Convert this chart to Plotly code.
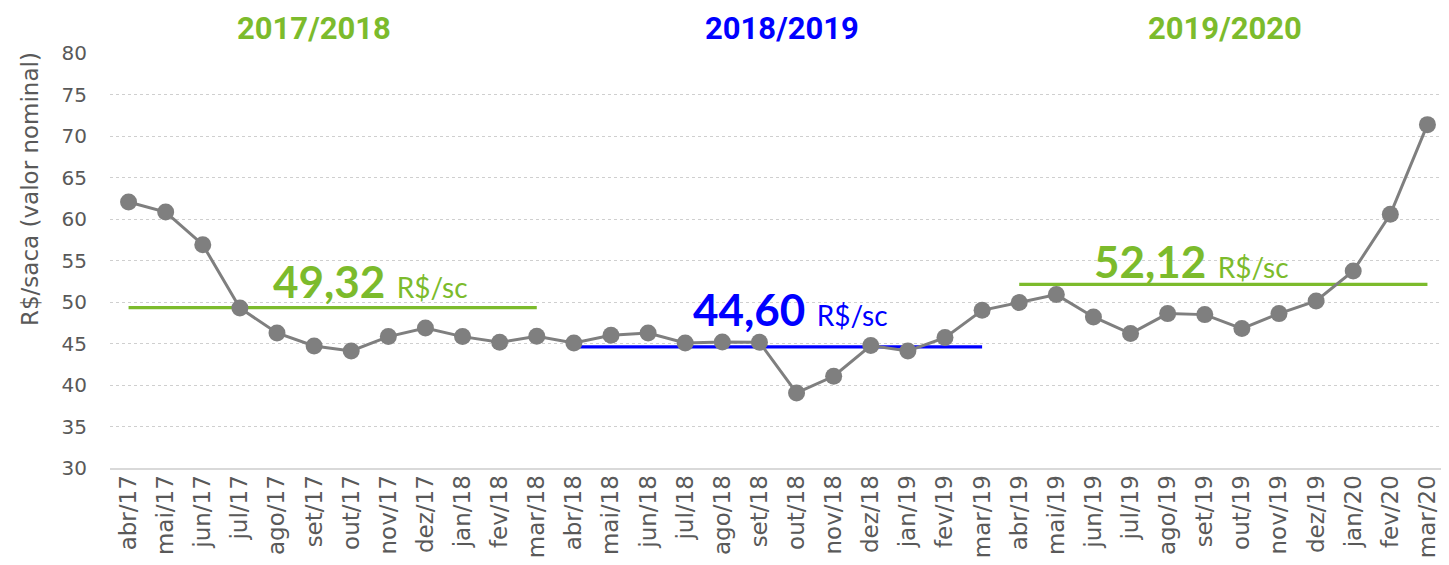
import plotly.graph_objects as go

months = ["abr/17", "mai/17", "jun/17", "jul/17", "ago/17", "set/17", "out/17", "nov/17", "dez/17",
          "jan/18", "fev/18", "mar/18", "abr/18", "mai/18", "jun/18", "jul/18", "ago/18", "set/18",
          "out/18", "nov/18", "dez/18", "jan/19", "fev/19", "mar/19", "abr/19", "mai/19", "jun/19",
          "jul/19", "ago/19", "set/19", "out/19", "nov/19", "dez/19", "jan/20", "fev/20", "mar/20"]
prices = [62.05, 60.84, 56.90, 49.28, 46.27, 44.70, 44.10, 45.83, 46.87, 45.83, 45.14, 45.87,
          45.06, 45.99, 46.27, 45.06, 45.18, 45.14, 39.04, 41.05, 44.75, 44.10, 45.71, 49.00,
          49.93, 50.89, 48.20, 46.20, 48.60, 48.48, 46.80, 48.60, 50.12, 53.73, 60.57, 71.37]

seasons = ["2017/2018", "2018/2019", "2019/2020"]
season_avgs = [49.32, 44.60, 52.12]
season_labels = ["49,32", "44,60", "52,12"]
season_start = ["abr/17", "abr/18", "abr/19"]
season_end = ["mar/18", "mar/19", "mar/20"]

GREEN = "#7cbb2c"
BLUE = "#0000ff"
season_colors = [GREEN, BLUE, GREEN]
GREY = "#7f7f7f"
TXT = "#595959"

W, H = 1441, 557          # page body has an 8px margin
L, R, T, B = 102, 3, 45, 97

fig = go.Figure()

for s, avg, c0, c1, col in zip(seasons, season_avgs, season_start, season_end, season_colors):
    fig.add_trace(go.Scatter(x=[c0, c1], y=[avg, avg], mode="lines",
                             line=dict(color=col, width=3.3), hoverinfo="skip", showlegend=False))

fig.add_trace(go.Scatter(x=months, y=prices, mode="lines+markers",
                         line=dict(color=GREY, width=3),
                         marker=dict(color=GREY, size=17),
                         showlegend=False))

# season titles and average labels
title_x = [5.0, 17.62, 29.55]
label_x = [3.85, 15.15, 25.95]
label_y = [52.5, 49.2, 55.0]
for s, lab, col, tx, lx, ly in zip(seasons, season_labels, season_colors, title_x, label_x, label_y):
    fig.add_annotation(x=tx, y=1.058, xref="x", yref="paper", text="<b>%s</b>" % s,
                       showarrow=False, xanchor="center", yanchor="middle",
                       font=dict(family="Roboto", size=31, color=col))
    fig.add_annotation(x=lx, y=ly, xref="x", yref="y",
                       text="<b>%s</b> <span style='font-size:28px;font-weight:normal'>R$/sc</span>" % lab,
                       showarrow=False, xanchor="left", yanchor="middle",
                       font=dict(family="Lato", size=44, color=col))

# y axis title (placed off-centre like the reference)
fig.add_annotation(x=-(L - 22) / (W - L - R), y=(H - B - (189 - 8)) / (H - T - B),
                   xref="paper", yref="paper", text="R$/saca (valor nominal)", textangle=-90,
                   showarrow=False, xanchor="center", yanchor="middle",
                   font=dict(family="DejaVu Sans", size=23, color=TXT))

fig.update_layout(
    width=W, height=H,
    margin=dict(l=L, r=R, t=T, b=B),
    paper_bgcolor="white", plot_bgcolor="white",
    font=dict(family="DejaVu Sans", color=TXT),
)
fig.update_xaxes(type="category", categoryorder="array", categoryarray=months,
                 range=[-0.5, 35.5], tickangle=-90,
                 tickfont=dict(family="DejaVu Sans", size=23, color=TXT),
                 showgrid=False, showline=True, linecolor="#d9d9d9", linewidth=2,
                 ticks="", ticklabelstandoff=-4, automargin=False)
fig.update_yaxes(range=[30, 80], dtick=5, showgrid=True, gridcolor="#cfcfcf", griddash="dot",
                 gridwidth=1, zeroline=False, showline=False,
                 tickfont=dict(family="DejaVu Sans", size=20, color=TXT),
                 ticklabelstandoff=22, automargin=False)

fig.write_html("out.html")
